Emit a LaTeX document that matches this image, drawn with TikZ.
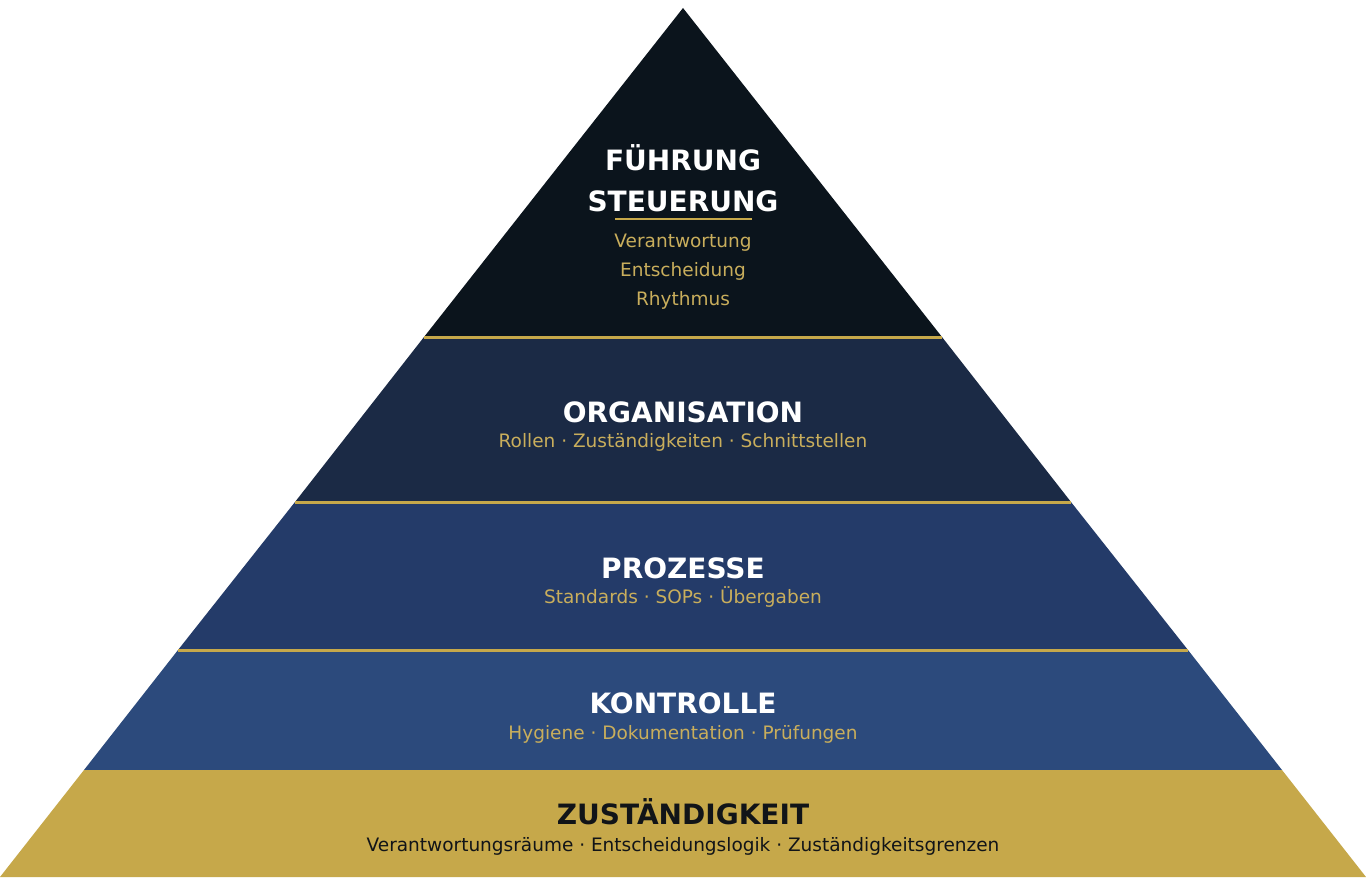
\documentclass[tikz,border=0pt]{standalone}
\usepackage{fontspec}
\setmainfont{DejaVu Sans}
\definecolor{c1}{HTML}{0B141C}
\definecolor{c2}{HTML}{1B2A45}
\definecolor{c3}{HTML}{243B69}
\definecolor{c4}{HTML}{2C4A7C}
\definecolor{gold}{HTML}{C6A84A}
\definecolor{goldtxt}{HTML}{C9AE5C}
\definecolor{ink}{HTML}{111418}
\begin{document}
\begin{tikzpicture}[x=1pt,y=-1pt,
  title/.style={font=\fontsize{28}{32}\selectfont\bfseries,text=white,inner sep=0pt},
  sub/.style={font=\fontsize{18.5}{29}\selectfont,text=goldtxt,inner sep=0pt,align=center},
  sep/.style={draw=gold,line width=3pt}]
\useasboundingbox[fill=white] (0,0) rectangle (1366,896);
\fill[c1] (683,8) -- (942,337) -- (424,337) -- cycle;
\fill[c2] (424,337) -- (942,337) -- (1071,502) -- (295,502) -- cycle;
\fill[c3] (295,502) -- (1071,502) -- (1188,650) -- (178,650) -- cycle;
\fill[c4] (178,650) -- (1188,650) -- (1282,770) -- (84,770) -- cycle;
\fill[gold] (84,770) -- (1282,770) -- (1366,877) -- (0,877) -- cycle;
\coordinate (s1a) at (424,337); \coordinate (s1b) at (942,337);
\coordinate (s2a) at (295,502); \coordinate (s2b) at (1071,502);
\coordinate (s3a) at (178,650); \coordinate (s3b) at (1188,650);
\draw[sep] (s1a) -- (s1b);
\draw[sep] (s2a) -- (s2b);
\draw[sep] (s3a) -- (s3b);
\node[title] (t1a) at (683,158) {FÜHRUNG};
\node[title] (t1b) at (683,201) {STEUERUNG};
\coordinate (u1) at (615,219); \coordinate (u2) at (752,219);
\draw[draw=gold,line width=1.2pt] (u1) -- (u2);
\node[sub] (s1) at (683,272) {Verantwortung\\Entscheidung\\Rhythmus};
\node[title] (t2) at (683,412) {ORGANISATION};
\node[sub] (s2) at (683,442) {Rollen · Zuständigkeiten · Schnittstellen};
\node[title] (t3) at (683,568) {PROZESSE};
\node[sub] (s3) at (683,597) {Standards · SOPs · Übergaben};
\node[title] (t4) at (683,703) {KONTROLLE};
\node[sub] (s4) at (683,734) {Hygiene · Dokumentation · Prüfungen};
\node[title,text=ink] (t5) at (683,812) {ZUSTÄNDIGKEIT};
\node[sub,text=ink] (s5) at (683,846) {Verantwortungsräume · Entscheidungslogik · Zuständigkeitsgrenzen};
\end{tikzpicture}
\end{document}
